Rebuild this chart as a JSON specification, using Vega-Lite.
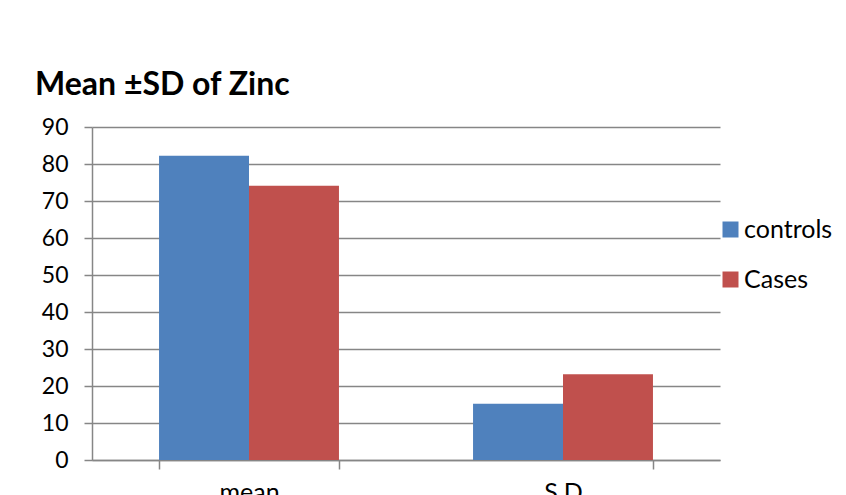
{
  "$schema": "https://vega.github.io/schema/vega-lite/v6.json",
  "width": 628,
  "height": 333,
  "autosize": {"type": "none"},
  "padding": {"left": 92, "top": 127, "right": 126, "bottom": 35},
  "background": "white",
  "title": {
    "text": "Mean ±SD of Zinc",
    "anchor": "start",
    "frame": "group",
    "font": "Lato",
    "fontSize": 32,
    "fontWeight": "bold",
    "color": "black",
    "dx": -57,
    "offset": -11,
    "baseline": "alphabetic"
  },
  "data": {
    "values": [
      {"stat": "mean", "group": "controls", "value": 82.2},
      {"stat": "mean", "group": "Cases", "value": 74.1},
      {"stat": "S.D", "group": "controls", "value": 15.2},
      {"stat": "S.D", "group": "Cases", "value": 23.2}
    ]
  },
  "mark": {"type": "bar"},
  "encoding": {
    "x": {
      "field": "stat",
      "type": "nominal",
      "sort": ["mean", "S.D"],
      "scale": {"paddingInner": 0.427, "paddingOuter": 0.2135},
      "axis": {
        "title": null,
        "labelAngle": 0,
        "tickBand": "extent",
        "domainColor": "#868686",
        "domainWidth": 1.5,
        "tickColor": "#868686",
        "tickWidth": 1.5,
        "tickSize": 9,
        "labelFont": "Lato",
        "labelFontSize": 25,
        "labelColor": "black",
        "labelPadding": 11
      }
    },
    "xOffset": {"field": "group", "sort": ["controls", "Cases"]},
    "y": {
      "field": "value",
      "type": "quantitative",
      "scale": {"domain": [0, 90]},
      "axis": {
        "title": null,
        "values": [0, 10, 20, 30, 40, 50, 60, 70, 80, 90],
        "grid": true,
        "gridColor": "#868686",
        "gridWidth": 1.5,
        "domainColor": "#868686",
        "domainWidth": 1.5,
        "tickColor": "#868686",
        "tickWidth": 1.5,
        "tickSize": 8,
        "labelPadding": 16,
        "labelFont": "Lato",
        "labelFontSize": 23,
        "labelColor": "black"
      }
    },
    "color": {
      "field": "group",
      "type": "nominal",
      "scale": {"domain": ["controls", "Cases"], "range": ["#4F81BD", "#C0504D"]},
      "legend": {
        "title": null,
        "orient": "none",
        "legendX": 626,
        "legendY": 90,
        "symbolType": "square",
        "symbolSize": 256,
        "symbolStrokeWidth": 0,
        "symbolOpacity": 1,
        "labelFont": "Lato",
        "labelFontSize": 25,
        "labelColor": "black",
        "labelOffset": 1,
        "rowPadding": 24
      }
    }
  },
  "config": {"view": {"stroke": null}}
}
